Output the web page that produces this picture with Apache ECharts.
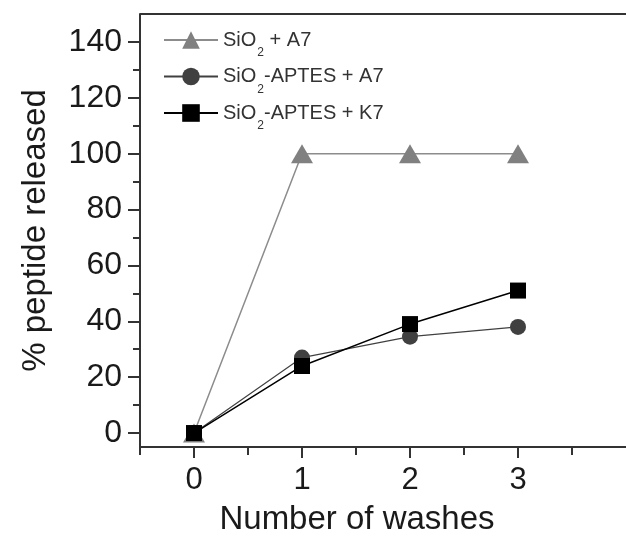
<!DOCTYPE html>
<html>
<head>
<meta charset="utf-8">
<script src="https://cdn.jsdelivr.net/npm/echarts@6/dist/echarts.min.js"></script>
<style>
    html, body { margin: 0; padding: 0; background: #fff; }
    #chart { width: 626px; height: 541px; }
</style>
</head>
<body>
<div id="chart"></div>
<script>
// data
var washes = [0, 1, 2, 3];
var sio2A7 = [0, 100, 100, 100];
var aptesA7 = [0, 27, 34.5, 38];
var aptesK7 = [0, 24, 39, 51];
var seriesNames = ['SiO2 + A7', 'SiO2-APTES + A7', 'SiO2-APTES + K7'];
var yMajor = [0, 20, 40, 60, 80, 100, 120, 140];
var yMinor = [10, 30, 50, 70, 90, 110, 130];
var xMajor = [0, 1, 2, 3];
var xMinor = [-0.5, 0.5, 1.5, 2.5, 3.5];
var yTop = 150;

function pairs(ys) {
    return washes.map(function (x, i) { return [x, ys[i]]; });
}

var axisColor = '#333';
var textColor = '#1a1a1a';
var font = 'Liberation Sans, Arial, sans-serif';

var chart = echarts.init(document.getElementById('chart'));
var option = {
    animation: false,
    backgroundColor: '#fff',
    grid: { left: 140, right: 0, top: 14, bottom: 89, containLabel: false },
    legend: {
        orient: 'vertical',
        left: 158,
        top: 25,
        itemWidth: 54,
        itemHeight: 22,
        itemGap: 7.5,
        data: seriesNames,
        formatter: function (name) {
            return '{t|SiO}{s|2}{t|' + name.slice(4) + '}';
        },
        textStyle: {
            rich: {
                t: { fontSize: 20, fontFamily: font, color: '#333', lineHeight: 20, verticalAlign: 'middle' },
                s: { fontSize: 12, fontFamily: font, color: '#333', lineHeight: 12, verticalAlign: 'top', padding: [17, 0, 0, 1] }
            }
        }
    },
    xAxis: [{
        type: 'value',
        min: -0.5,
        max: 4,
        position: 'bottom',
        axisLine: { onZero: false, lineStyle: { color: axisColor, width: 2 } },
        axisTick: { show: true, length: 11, customValues: xMajor, lineStyle: { color: axisColor, width: 2 } },
        axisLabel: { customValues: xMajor, fontSize: 31, fontFamily: font, color: textColor, margin: 18 },
        splitLine: { show: false },
        name: 'Number of washes',
        nameLocation: 'middle',
        nameGap: 56,
        nameTextStyle: { fontSize: 33, fontFamily: font, color: textColor, padding: [0, 52, 0, 0] }
    }, {
        // minor ticks on the bottom
        type: 'value',
        min: -0.5,
        max: 4,
        position: 'bottom',
        axisLine: { show: false, onZero: false },
        axisTick: { show: true, length: 8, customValues: xMinor, lineStyle: { color: axisColor, width: 2 } },
        axisLabel: { show: false },
        splitLine: { show: false }
    }],
    yAxis: [{
        type: 'value',
        min: -5,
        max: yTop,
        position: 'left',
        axisLine: { show: true, onZero: false, lineStyle: { color: axisColor, width: 2 } },
        axisTick: { show: true, length: 12, customValues: yMajor, lineStyle: { color: axisColor, width: 2 } },
        axisLabel: { customValues: yMajor, fontSize: 32, fontFamily: font, color: textColor, margin: 18 },
        splitLine: { show: false },
        name: '% peptide released',
        nameLocation: 'middle',
        nameGap: 88,
        nameTextStyle: { fontSize: 33, fontFamily: font, color: textColor }
    }, {
        // minor ticks on the left
        type: 'value',
        min: -5,
        max: yTop,
        position: 'left',
        axisLine: { show: false, onZero: false },
        axisTick: { show: true, length: 7, customValues: yMinor, lineStyle: { color: axisColor, width: 2 } },
        axisLabel: { show: false },
        splitLine: { show: false }
    }],
    series: [{
        name: seriesNames[0],
        type: 'line',
        data: pairs(sio2A7),
        symbol: 'triangle',
        symbolSize: [22, 19],
        itemStyle: { color: '#808080' },
        lineStyle: { color: '#8c8c8c', width: 1.5 },
        // top frame line of the plot box
        markLine: {
            silent: true,
            symbol: 'none',
            label: { show: false },
            lineStyle: { color: axisColor, width: 2, type: 'solid' },
            data: [{ yAxis: yTop }]
        }
    }, {
        name: seriesNames[1],
        type: 'line',
        data: pairs(aptesA7),
        symbol: 'circle',
        symbolSize: 16,
        itemStyle: { color: '#404040' },
        lineStyle: { color: '#404040', width: 1.2 }
    }, {
        name: seriesNames[2],
        type: 'line',
        data: pairs(aptesK7),
        symbol: 'rect',
        symbolSize: 16,
        itemStyle: { color: '#000' },
        lineStyle: { color: '#000', width: 1.5 }
    }]
};
chart.setOption(option);
</script>
</body>
</html>
